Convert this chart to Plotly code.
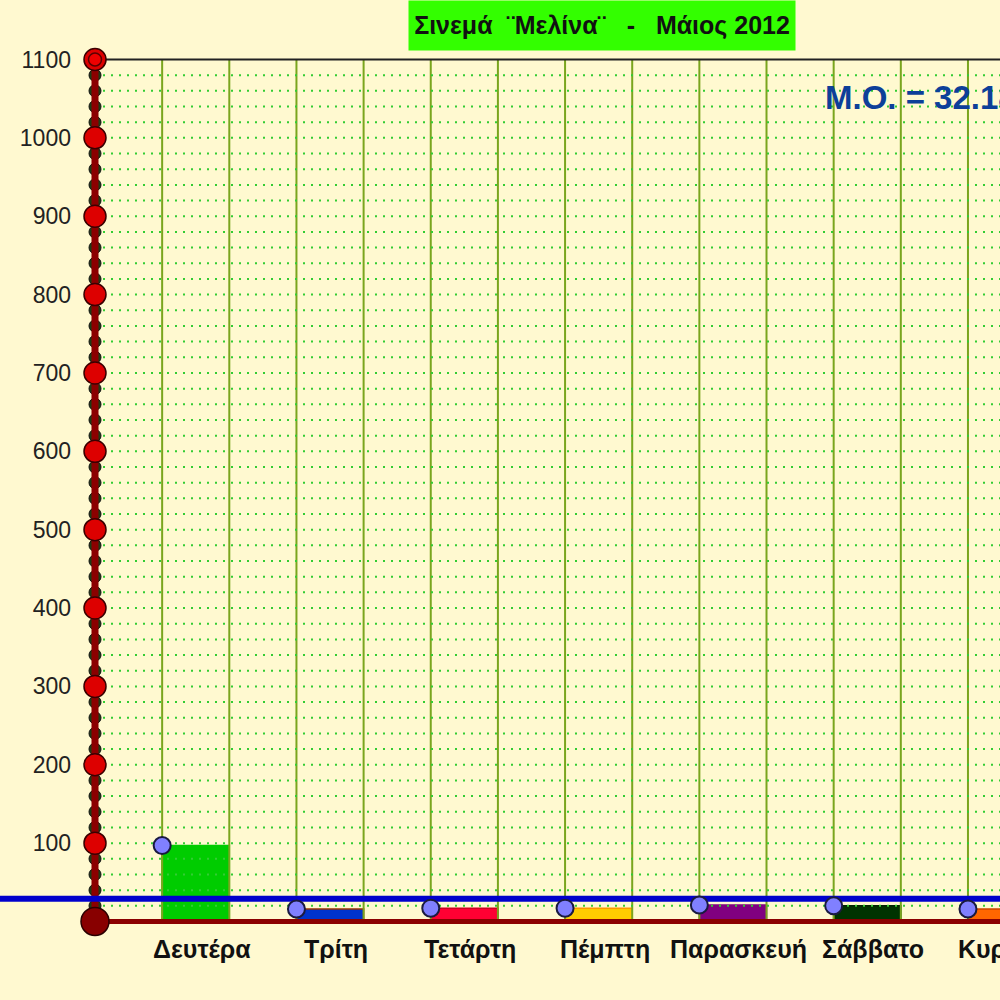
import plotly.graph_objects as go

# data
days = ["Δευτέρα", "Τρίτη", "Τετάρτη", "Πέμπτη", "Παρασκευή", "Σάββατο", "Κυριακή"]
tickets = [97, 16, 17, 17, 21, 20, 16]
bar_colors = ["#00cc00", "#0033cc", "#ff0033", "#ffcc00", "#800080", "#003300", "#ff6600"]
bar_edges = ["#00cc00", "#993300", "#cc0022", "#ff9900", "#800080", "#002200", "#cc4400"]
y_labels = list(range(100, 1200, 100))
title_text = "Σινεμά\u00a0\u00a0¨Μελίνα¨\u00a0\u00a0\u00a0-\u00a0\u00a0\u00a0Μάιος 2012"
mean_text = "Μ.Ο. = 32.18"

BG = "#fff9d0"
FONT = "Liberation Sans"
XMIN, XMAX = -1.4147, 13.477
YMIN, YMAX = -30, 1130
TOP = 1100
MT, MB = 36, 55
PLOT_H = 1000 - MT - MB

mean_val = sum(tickets) / len(tickets)
bar_x = [1.5 + 2 * i for i in range(len(days))]
left_x = [1 + 2 * i for i in range(len(days))]


def py(px):
    # page pixel row -> paper y
    return (1000 - MB - px) / PLOT_H


def px_(xv):
    return (xv - XMIN) / (XMAX - XMIN)


fig = go.Figure()

# grid, only inside the frame
gx, gy = [], []
for k in range(1, 15):
    gx += [k, k, None]
    gy += [0, TOP, None]
fig.add_trace(go.Scatter(x=gx, y=gy, mode="lines", line=dict(color="#7aa51e", width=2),
                         hoverinfo="skip"))
hx, hy = [], []
for v in range(20, TOP, 20):
    hx += [0, XMAX + 1, None]
    hy += [v, v, None]
fig.add_trace(go.Scatter(x=hx, y=hy, mode="lines",
                         line=dict(color="#33cc33", width=2, dash="2px,6px"), hoverinfo="skip"))

# bars
fig.add_trace(go.Bar(
    x=bar_x, y=tickets, width=1,
    marker=dict(color=bar_colors, line=dict(color=bar_edges, width=1.5)),
    hoverinfo="skip",
))

# x axis line and top border
fig.add_trace(go.Scatter(x=[0, XMAX + 1], y=[0, 0], mode="lines",
                         line=dict(color="#8b0000", width=5), hoverinfo="skip"))
fig.add_trace(go.Scatter(x=[0, XMAX + 1], y=[TOP, TOP], mode="lines",
                         line=dict(color="#222222", width=2), hoverinfo="skip"))

# y axis ornament: small circles, thick line, big circles
small = [v for v in range(20, TOP, 20) if v % 100]
fig.add_trace(go.Scatter(x=[0] * len(small), y=small, mode="markers", cliponaxis=False,
                         marker=dict(size=12, color="#1d3d14", line=dict(color="#111111", width=1)),
                         hoverinfo="skip"))
fig.add_trace(go.Scatter(x=[0, 0], y=[0, TOP], mode="lines",
                         line=dict(color="#8b0000", width=7), hoverinfo="skip"))
fig.add_trace(go.Scatter(x=[0] * len(y_labels), y=y_labels, mode="markers", cliponaxis=False,
                         marker=dict(size=22, color="#dd0000", line=dict(color="#3a0000", width=1.5)),
                         hoverinfo="skip"))
fig.add_trace(go.Scatter(x=[0], y=[TOP], mode="markers", cliponaxis=False,
                         marker=dict(size=13, color="#ee0000", line=dict(color="#5a0000", width=1.5)),
                         hoverinfo="skip"))
fig.add_trace(go.Scatter(x=[0], y=[0], mode="markers", cliponaxis=False,
                         marker=dict(size=28, color="#880000", line=dict(color="#2a0000", width=1.5)),
                         hoverinfo="skip"))

# mean line
fig.add_trace(go.Scatter(x=[XMIN - 1, XMAX + 1], y=[mean_val, mean_val], mode="lines",
                         line=dict(color="#0000cc", width=6), hoverinfo="skip"))

# points on the top-left corners of the bars
fig.add_trace(go.Scatter(x=left_x, y=tickets, mode="markers", cliponaxis=False,
                         marker=dict(size=17, color="#8080ff", line=dict(color="#1a1a40", width=2)),
                         hoverinfo="skip"))

annotations = []
for name, xv in zip(days, bar_x):
    annotations.append(dict(
        text=name, xref="paper", yref="paper", x=px_(xv), y=py(949),
        xanchor="center", yanchor="middle", xshift=6, showarrow=False,
        font=dict(family=FONT, size=25, color="#111111", weight="bold"),
    ))
annotations.append(dict(
    text=title_text, xref="paper", yref="paper", x=0.602, y=py(0), yanchor="top",
    xanchor="center", showarrow=False, bgcolor="#33ff00", width=386, height=49, borderpad=0,
    font=dict(family=FONT, size=25, color="#111111", weight="bold"),
))
annotations.append(dict(
    text=mean_text, xref="paper", yref="y", x=0.823, y=1051, xanchor="left", yanchor="middle",
    showarrow=False, font=dict(family=FONT, size=33, color="#0d3f99", weight="bold"),
))

fig.update_layout(
    width=1000, height=1000,
    margin=dict(l=0, r=0, t=MT, b=MB),
    paper_bgcolor=BG, plot_bgcolor=BG,
    showlegend=False,
    annotations=annotations,
    xaxis=dict(range=[XMIN, XMAX], showticklabels=False, zeroline=False,
               showgrid=False, showline=False, fixedrange=True),
    yaxis=dict(range=[YMIN, YMAX], anchor="free", position=0.095, tickmode="array",
               tickvals=y_labels, ticktext=[str(v) for v in y_labels], ticks="",
               ticklabelstandoff=24, tickfont=dict(family=FONT, size=23, color="#222222"),
               showgrid=False, zeroline=False, showline=False),
)

fig.write_html("out.html", config={"displayModeBar": False},
               post_script="document.body.style.margin='0';document.body.style.background='%s';" % BG)
